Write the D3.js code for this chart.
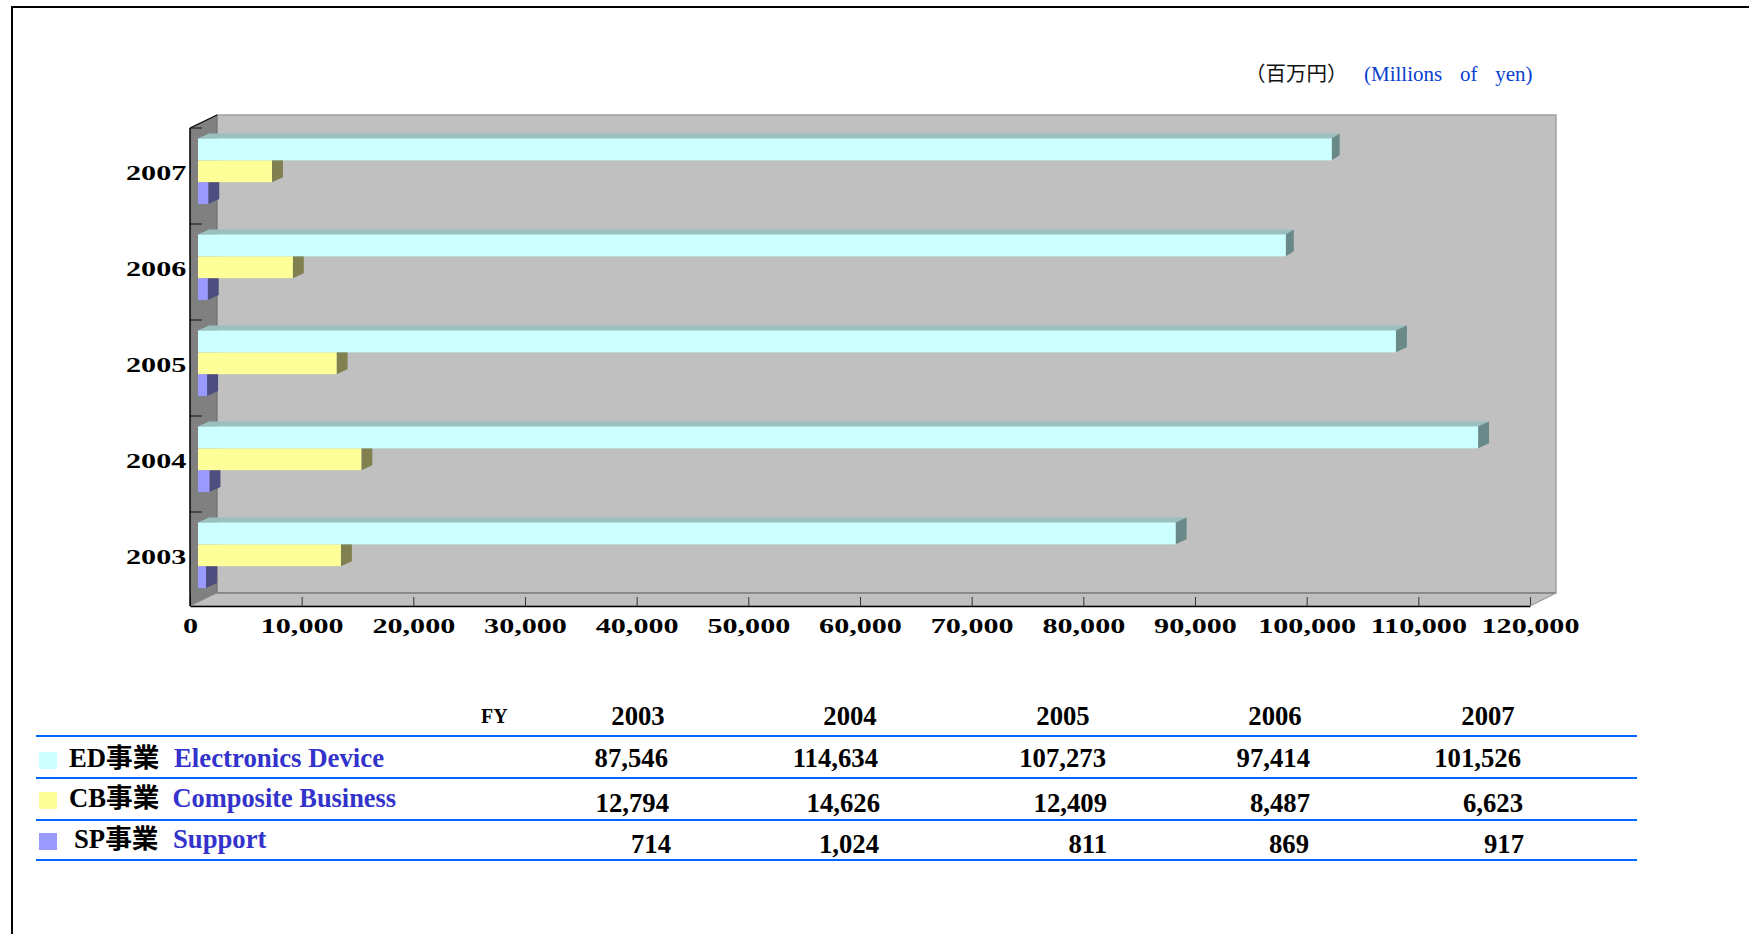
<!DOCTYPE html>
<html>
<head>
<meta charset="utf-8">
<script src="https://cdn.jsdelivr.net/npm/d3@7"></script>
<style>
  html, body { margin: 0; padding: 0; background: #fff; }
  svg { display: block; }
  text { font-family: "Liberation Serif", "Noto Sans CJK JP", serif; }
</style>
</head>
<body>
<div id="chart"></div>
<script>
const years = ['2003', '2004', '2005', '2006', '2007'];
const edValues = [87546, 114634, 107273, 97414, 101526];
const cbValues = [12794, 14626, 12409, 8487, 6623];
const spValues = [714, 1024, 811, 869, 917];
const xTicks = [0, 10000, 20000, 30000, 40000, 50000, 60000, 70000, 80000, 90000, 100000, 110000, 120000];

const seriesCodes = ['ED事業', 'CB事業', 'SP事業'];
const seriesNames = ['Electronics Device', 'Composite Business', 'Support'];
const seriesValues = [edValues, cbValues, spValues];
const frontColors = ['#ccffff', '#ffff99', '#9999ff'];
const topColors = ['#99bfbf', '#bfbf73', '#7373bf'];
const sideColors = ['#6a8a8a', '#808050', '#4d4d80'];

const W = 1749;
const H = 934;

// front frame of the 3D box
const plotLeft = 190;
const plotRight = 1530;
const plotTop = 128;
const plotBottom = 606;
const wallDx = 27;
const wallDy = -13;
// bar depth and where bars start inside the box
const barDx = 11;
const barDy = -5;
const barInset = 8;
// the long bars for 2006 and 2007 are drawn shallower in the original
const edDepth = [11, 11, 11, 8, 8];

const svg = d3.select('#chart')
    .append('svg')
    .attr('width', W)
    .attr('height', H);

// page border, only top and left are inside the shot
svg.append('path')
    .attr('d', `M12,${H}V7H${W}`)
    .attr('fill', 'none')
    .attr('stroke', '#000')
    .attr('stroke-width', 2);

const x = d3.scaleLinear().domain([0, 120000]).range([plotLeft, plotRight]);
const y = d3.scaleBand().domain(years).range([608, plotTop]);
const ySub = d3.scaleBand().domain(d3.range(3)).range([10.5, 76]);

const pts = (list) => list.map((p) => p.join(',')).join(' ');

// walls
const walls = svg.append('g');
walls.append('polygon')
    .attr('points', pts([[plotLeft + wallDx, plotTop + wallDy], [plotRight + wallDx - 1, plotTop + wallDy], [plotRight + wallDx - 1, plotBottom + wallDy], [plotLeft + wallDx, plotBottom + wallDy]]))
    .attr('fill', '#c0c0c0')
    .attr('stroke', '#a0a0a0')
    .attr('stroke-width', 1.5);
walls.append('polygon')
    .attr('points', pts([[plotLeft, plotBottom], [plotLeft + wallDx, plotBottom + wallDy], [plotRight + wallDx - 1, plotBottom + wallDy], [plotRight, plotBottom]]))
    .attr('fill', '#c0c0c0')
    .attr('stroke', '#a0a0a0')
    .attr('stroke-width', 1);
walls.append('line')
    .attr('x1', plotLeft + wallDx).attr('x2', plotRight + wallDx - 1)
    .attr('y1', plotBottom + wallDy).attr('y2', plotBottom + wallDy)
    .attr('stroke', '#808080')
    .attr('stroke-width', 1.5);
walls.append('polygon')
    .attr('points', pts([[plotLeft, plotTop], [plotLeft + wallDx, plotTop + wallDy], [plotLeft + wallDx, plotBottom + wallDy], [plotLeft, plotBottom]]))
    .attr('fill', '#808080');
walls.append('line')
    .attr('x1', plotLeft + wallDx).attr('x2', plotLeft + wallDx)
    .attr('y1', plotTop + wallDy).attr('y2', plotBottom + wallDy)
    .attr('stroke', '#707070');
walls.append('line')
    .attr('x1', plotLeft).attr('x2', plotLeft + wallDx)
    .attr('y1', plotTop).attr('y2', plotTop + wallDy)
    .attr('stroke', '#000')
    .attr('stroke-width', 1.2);

// bars, lowest series first so the upper bar hides its top face
const barRows = years.flatMap((year, i) => [2, 1, 0].map((s) => ({
    year,
    s,
    value: seriesValues[s][i],
    depth: s === 0 ? edDepth[i] : barDx
})));
const barX = (v) => x(v) + barInset;

const bars = svg.append('g')
    .selectAll('g')
    .data(barRows)
    .enter()
    .append('g');

bars.append('polygon')
    .attr('fill', (d) => topColors[d.s])
    .attr('points', (d) => {
        const yy = y(d.year) + ySub(d.s);
        return pts([[barX(0), yy], [barX(0) + barDx, yy + barDy], [barX(d.value) + d.depth, yy + barDy], [barX(d.value), yy]]);
    });
bars.append('polygon')
    .attr('fill', (d) => sideColors[d.s])
    .attr('points', (d) => {
        const yy = y(d.year) + ySub(d.s);
        const ex = barX(d.value);
        return pts([[ex, yy], [ex + d.depth, yy + barDy], [ex + d.depth, yy + ySub.bandwidth() + barDy], [ex, yy + ySub.bandwidth()]]);
    });
bars.append('rect')
    .attr('fill', (d) => frontColors[d.s])
    .attr('x', barX(0))
    .attr('y', (d) => y(d.year) + ySub(d.s))
    .attr('width', (d) => barX(d.value) - barX(0))
    .attr('height', ySub.bandwidth());

// axes
const labelStretch = 'scale(1.37,1)';

const xAxis = svg.append('g')
    .attr('transform', `translate(0,${plotBottom})`)
    .call(d3.axisBottom(x)
        .tickValues(xTicks)
        .tickFormat(d3.format(','))
        .tickSizeInner(-9)
        .tickSizeOuter(0)
        .tickPadding(11.3));
xAxis.select('.domain').attr('stroke', '#000').attr('stroke-width', 1.5);
xAxis.selectAll('line').attr('stroke', '#333');
xAxis.selectAll('text')
    .attr('font-size', 22)
    .attr('font-weight', 'bold')
    .attr('fill', '#000')
    .attr('font-family', '"Liberation Serif", serif')
    .attr('transform', labelStretch);

const yAxis = svg.append('g')
    .attr('transform', `translate(${plotLeft},0)`)
    .call(d3.axisLeft(y).tickSize(0).tickPadding(2.7));
yAxis.select('.domain').remove();
yAxis.selectAll('text')
    .attr('font-size', 22)
    .attr('font-weight', 'bold')
    .attr('fill', '#000')
    .attr('font-family', '"Liberation Serif", serif')
    .attr('dy', '0.18em')
    .attr('transform', labelStretch);

// category separators on the side wall
svg.append('g')
    .selectAll('line')
    .data(years)
    .enter()
    .append('line')
    .attr('x1', plotLeft)
    .attr('x2', plotLeft + 12)
    .attr('y1', (d) => y(d))
    .attr('y2', (d) => y(d))
    .attr('stroke', '#222')
    .attr('stroke-width', 1.2);

svg.append('line')
    .attr('x1', plotLeft).attr('x2', plotLeft)
    .attr('y1', plotTop).attr('y2', plotBottom)
    .attr('stroke', '#000')
    .attr('stroke-width', 1.5);
svg.append('line')
    .attr('x1', plotRight).attr('x2', plotRight + wallDx - 1)
    .attr('y1', plotBottom).attr('y2', plotBottom + wallDy)
    .attr('stroke', '#a0a0a0');

// unit note
svg.append('text')
    .attr('x', 1245)
    .attr('y', 81)
    .attr('font-size', 20.5)
    .style('font-family', '"Noto Sans CJK JP", sans-serif')
    .attr('fill', '#111')
    .text('（百万円）');
svg.append('text')
    .attr('x', 1364)
    .attr('y', 81)
    .attr('font-size', 21)
    .attr('fill', '#0a3fd0')
    .attr('word-spacing', 12.5)
    .text('(Millions of yen)');

// table under the chart
const ruleY = [736, 778, 820, 860];
const rowBase = [767, 812, 853];
const labelBase = [767, 807, 848];
const codeX = [69, 69, 74];
const nameX = [174, 172.5, 173];
const nameFont = [26.8, 26.4, 26.7];
const swatchY = [752, 792, 833];
const headCenter = [638, 850, 1063, 1275, 1488];
const cellRight = [
    [668, 878, 1106, 1310, 1521],
    [669, 880, 1107, 1310, 1523],
    [671, 879, 1107, 1309, 1524]
];
const tableFont = 26.7;

svg.append('g')
    .selectAll('line')
    .data(ruleY)
    .enter()
    .append('line')
    .attr('x1', 36)
    .attr('x2', 1637)
    .attr('y1', (d) => d)
    .attr('y2', (d) => d)
    .attr('stroke', '#0066ff')
    .attr('stroke-width', 2);

svg.append('text')
    .attr('x', 481)
    .attr('y', 723)
    .attr('font-size', 20)
    .attr('font-weight', 'bold')
    .text('FY');

svg.append('g')
    .selectAll('text')
    .data(years)
    .enter()
    .append('text')
    .attr('x', (d, i) => headCenter[i])
    .attr('y', 725)
    .attr('text-anchor', 'middle')
    .attr('font-size', tableFont)
    .attr('font-weight', 'bold')
    .text((d) => d);

const rows = svg.append('g')
    .selectAll('g')
    .data(seriesCodes)
    .enter()
    .append('g');

rows.append('rect')
    .attr('x', 39)
    .attr('y', (d, i) => swatchY[i])
    .attr('width', 18)
    .attr('height', 17)
    .attr('fill', (d, i) => frontColors[i]);
rows.append('text')
    .attr('x', (d, i) => codeX[i])
    .attr('y', (d, i) => labelBase[i])
    .attr('font-size', tableFont)
    .attr('font-weight', 'bold')
    .text((d) => d);
rows.append('text')
    .attr('x', (d, i) => nameX[i])
    .attr('y', (d, i) => labelBase[i])
    .attr('font-size', (d, i) => nameFont[i])
    .attr('font-weight', 'bold')
    .attr('fill', '#3333cc')
    .text((d, i) => seriesNames[i]);

rows.each(function (d, r) {
    d3.select(this)
        .selectAll('text.cell')
        .data(seriesValues[r])
        .enter()
        .append('text')
        .attr('class', 'cell')
        .attr('x', (v, i) => cellRight[r][i])
        .attr('y', rowBase[r])
        .attr('text-anchor', 'end')
        .attr('font-size', tableFont)
        .attr('font-weight', 'bold')
        .text((v) => d3.format(',')(v));
});
</script>
</body>
</html>
